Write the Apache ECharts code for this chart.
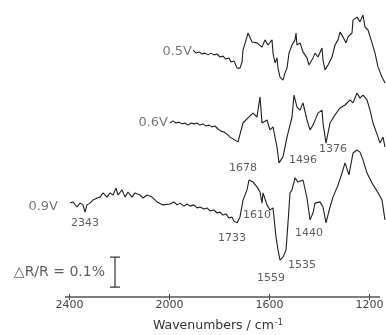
<!DOCTYPE html>
<html>
<head>
<meta charset="utf-8">
<script src="https://cdn.jsdelivr.net/npm/echarts@6/dist/echarts.min.js"></script>
<style>
  html, body { margin: 0; padding: 0; background: #fff; }
  #chart { width: 386px; height: 335px; }
</style>
</head>
<body>
<div id="chart"></div>
<script>
// x: wavenumber / cm-1, y: dR/R in units of 0.01 % (traces stacked with offsets)
const waveTicks = [2400, 2000, 1600, 1200]
const axisSpan = [2418, 1158]

const wave05 = [1906, 1894, 1882, 1870, 1858, 1846, 1834, 1822, 1810, 1798, 1786, 1774, 1762, 1754, 1742, 1730, 1718,
  1710, 1706, 1690, 1686, 1670, 1650, 1630, 1618, 1606, 1590, 1586, 1578, 1570, 1566, 1558, 1546, 1538, 1530, 1522,
  1510, 1498, 1494, 1490, 1478, 1466, 1450, 1442, 1426, 1418, 1406, 1390, 1386, 1378, 1366, 1350, 1338, 1326, 1318,
  1306, 1294, 1286, 1270, 1266, 1250, 1238, 1226, 1218, 1206, 1190, 1178, 1166, 1150, 1138]
const dr05 = [82.3, 81.3, 81.7, 81, 81.3, 80.7, 81.3, 80.7, 81, 80, 80.3, 79.3, 79.7, 78.3, 78.7, 76.3, 76.3,
  78.3, 82.3, 86.7, 88, 85, 84.7, 83.3, 85.7, 84, 85.7, 81.3, 78, 79.7, 76.3, 73.3, 72.3, 74.7, 76.3, 81.3,
  84, 85.7, 88, 84, 84.7, 81.7, 79.7, 77.3, 79.7, 81.3, 80, 83, 79, 75.7, 77.3, 80, 84, 85.7, 88.3,
  86.7, 84.7, 86.7, 88, 92.3, 93.3, 91.7, 94, 90, 89, 84.7, 81.3, 76.7, 73.3, 71.3]

const wave06 = [1998, 1986, 1974, 1962, 1950, 1938, 1926, 1914, 1902, 1890, 1878, 1866, 1854, 1842, 1830, 1818, 1806,
  1794, 1782, 1770, 1758, 1750, 1738, 1726, 1706, 1686, 1666, 1650, 1638, 1630, 1610, 1598, 1586, 1570, 1562, 1546,
  1530, 1510, 1502, 1490, 1478, 1466, 1450, 1438, 1426, 1406, 1390, 1386, 1374, 1358, 1338, 1318, 1298, 1278, 1266,
  1250, 1238, 1226, 1210, 1198, 1186, 1170, 1158, 1146, 1138]
const dr06 = [58, 58.7, 58, 58.3, 57.7, 58, 57.3, 58, 57.7, 58, 57.3, 57.7, 57, 57.3, 56.7, 57, 56,
  55.3, 55, 54.3, 53.3, 53.7, 52.3, 51.7, 58, 59.7, 61.3, 60, 66.7, 58, 59, 55.7, 56.7, 50, 44.7, 46.7,
  53.3, 60, 67.3, 63.3, 62.3, 64.7, 59, 55.7, 57.3, 61.3, 62.3, 58, 51.3, 58, 60.7, 63, 64, 65.7, 64.7,
  68, 66.3, 67.3, 65.7, 62.3, 58, 54.3, 51.3, 53.3, 50]

const wave09 = [2398, 2386, 2370, 2358, 2346, 2338, 2330, 2318, 2306, 2290, 2278, 2266, 2250, 2238, 2226, 2214, 2206,
  2190, 2178, 2166, 2150, 2138, 2118, 2106, 2090, 2070, 2050, 2026, 1998, 1982, 1970, 1958, 1942, 1930, 1918, 1902,
  1890, 1878, 1862, 1850, 1838, 1822, 1810, 1798, 1786, 1774, 1762, 1750, 1742, 1730, 1718, 1706, 1690, 1682, 1666,
  1650, 1638, 1630, 1626, 1610, 1598, 1586, 1574, 1566, 1558, 1546, 1534, 1526, 1518, 1510, 1498, 1486, 1466, 1450,
  1438, 1426, 1418, 1398, 1386, 1374, 1358, 1346, 1326, 1310, 1298, 1282, 1266, 1250, 1238, 1226, 1210, 1190, 1170,
  1150, 1138]
const dr09 = [31.3, 31.7, 30, 31.3, 30.7, 28.3, 30.7, 31.3, 32.3, 33, 33.3, 34.7, 33.3, 34.7, 34, 36.3, 34,
  35.7, 33.3, 35, 33.3, 34.7, 34, 33, 34, 33.3, 31.7, 30.7, 31, 31.7, 30.7, 31.3, 30.3, 31, 30.3, 30.7,
  29.7, 30, 29.3, 29.7, 28.7, 29, 28, 28.3, 27.3, 27.7, 26.3, 26.7, 25.3, 24.7, 26.7, 32.3, 35.7, 39, 38.3,
  36.7, 35, 31.3, 34.7, 30.7, 29, 29.7, 20, 15.7, 12.3, 13.3, 15.7, 24.7, 34.7, 35.7, 39.7, 38.3, 39, 33,
  25.7, 28, 31.3, 31.7, 30, 24.7, 30, 33.3, 37.3, 41.3, 44.7, 40.7, 48, 49, 48.3, 45.7, 41.3, 38, 35.3,
  32.3, 25.7]

// trace names, anchored just left of where each trace starts
const traceNames = ['0.5V', '0.6V', '0.9V']
const traceNameWave = [1906, 2002, 2442]
const traceNameVal = [81.7, 58, 30]

// peak annotations
const peakText = ['2343', '1733', '1678', '1610', '1559', '1535', '1496', '1440', '1376']
const peakWave = [2338, 1750, 1706, 1650, 1594, 1470, 1466, 1442, 1346]
const peakVal = [24.7, 19.7, 43, 27.3, 6.3, 10.7, 45.7, 21.3, 49.3]

// scale bar: dR/R = 0.1 % (10 units)
const barWave = [2238, 2198, 2218, 2218, 2238, 2198]
const barVal = [13.3, 13.3, 13.3, 3.3, 3.3, 3.3]

const pairs = (xs, ys) => xs.map((x, i) => [x, ys[i]])
const font = 'DejaVu Sans'

const chart = echarts.init(document.getElementById('chart'))

const traceSeries = (xs, ys) => ({
  type: 'line',
  data: pairs(xs, ys),
  symbol: 'none',
  clip: false,
  lineStyle: { color: '#1e1e1e', width: 1.1 },
  z: 3
})

const option = {
  animation: false,
  grid: { left: 0, right: 0, top: 0, bottom: 38, containLabel: false, outerBoundsMode: 'none' },
  xAxis: [
    {
      type: 'value',
      min: 1134,
      max: 2678,
      inverse: true,
      splitLine: { show: false },
      axisLine: { show: false },
      axisTick: { show: true, length: 3, customValues: waveTicks, lineStyle: { color: '#444' } },
      axisLabel: {
        customValues: waveTicks,
        formatter: (v) => String(v),
        margin: 3,
        color: '#444',
        fontFamily: font,
        fontSize: 11
      }
    },
    {
      type: 'value',
      min: 1134,
      max: 2678,
      inverse: true,
      position: 'bottom',
      splitLine: { show: false },
      axisLine: { show: false },
      axisTick: { show: true, inside: true, length: 3, customValues: waveTicks, lineStyle: { color: '#444' } },
      axisLabel: { show: false }
    }
  ],
  yAxis: { type: 'value', min: 0, max: 99, show: false },
  series: [
    {
      type: 'line',
      data: [[axisSpan[0], 0], [axisSpan[1], 0]],
      symbol: 'none',
      clip: false,
      lineStyle: { color: '#555', width: 1.3 }
    },
    traceSeries(wave05, dr05),
    traceSeries(wave06, dr06),
    traceSeries(wave09, dr09),
    {
      type: 'line',
      data: pairs(barWave, barVal),
      symbol: 'none',
      clip: false,
      lineStyle: { color: '#333', width: 1.2 }
    },
    {
      type: 'scatter',
      symbolSize: 0,
      clip: false,
      data: [{ name: '\u25B3R/R = 0.1%', value: [2218, 8.3] }],
      label: {
        show: true, position: 'left', distance: 10, formatter: '{b}',
        color: '#333', fontFamily: font, fontSize: 14
      }
    },
    {
      type: 'scatter',
      symbolSize: 0,
      clip: false,
      data: traceNames.map((t, i) => ({ name: t, value: [traceNameWave[i], traceNameVal[i]] })),
      label: {
        show: true, position: 'left', distance: 1, formatter: '{b}',
        color: '#555', fontFamily: font, fontSize: 13
      }
    },
    {
      type: 'scatter',
      symbolSize: 0,
      clip: false,
      data: peakText.map((t, i) => ({ name: t, value: [peakWave[i], peakVal[i]] })),
      label: {
        show: true, position: 'inside', formatter: '{b}',
        color: '#333', fontFamily: font, fontSize: 11
      },
      z: 4
    }
  ],
  graphic: [
    {
      type: 'text',
      left: 153,
      top: 319,
      style: {
        text: '{a|Wavenumbers / cm}{b|-1}',
        rich: {
          a: { fontFamily: font, fontSize: 12.5, fill: '#333' },
          b: { fontFamily: font, fontSize: 8, fill: '#333', padding: [0, 0, 6, 1] }
        }
      }
    }
  ]
}

chart.setOption(option)
</script>
</body>
</html>
